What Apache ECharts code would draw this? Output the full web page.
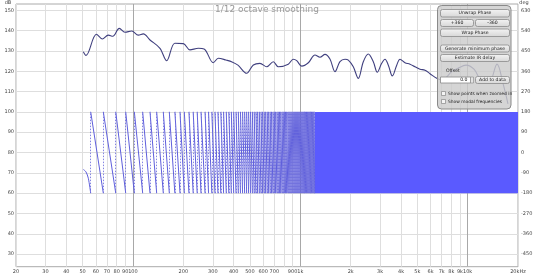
<!DOCTYPE html>
<html><head><meta charset="utf-8">
<script src="https://cdn.jsdelivr.net/npm/echarts@6/dist/echarts.min.js"></script>
<style>html,body{margin:0;padding:0;background:#fff}#c{width:535px;height:275px}</style>
</head><body><div id="c"></div>
<script>
// ---- data ----
const magHz = [50.5, 52.4, 60.5, 65.6, 71.2, 75.7, 82.9, 89.6, 98.3, 107.6, 115.3, 126.4, 145, 159, 178, 200, 219, 246, 266, 302, 324, 360, 391, 424, 478, 524, 574, 630, 690, 739, 848, 908, 952, 1020, 1117, 1224, 1311, 1405, 1504, 1612, 1726, 1850, 1937, 2074, 2222, 2380, 2549, 2731, 2884, 3064, 3208, 3358, 3548, 3769, 3944, 4224, 4524, 4847, 5192, 5561, 5958, 6535, 7028, 8032, 8756, 9780, 10916, 12180, 13424, 14980, 16270, 17420];
const magDb = [129.6, 127.8, 138.2, 135.9, 137.8, 137.2, 141.1, 139.2, 139.8, 137.8, 138.4, 135.4, 131.3, 125.2, 133.8, 133.6, 130.5, 131.3, 131.0, 124.2, 126.4, 125.5, 124.6, 123.0, 119.0, 123.1, 123.9, 122.2, 124.7, 122.2, 123.5, 125.9, 125.2, 122.5, 124.2, 128.0, 126.9, 128.3, 126.0, 119.8, 124.7, 125.9, 125.5, 122.2, 116.5, 124.7, 128.5, 124.7, 119.5, 123.9, 125.9, 123.0, 117.7, 123.0, 125.9, 124.2, 123.5, 122.2, 121.0, 120.5, 118.8, 116.5, 115.7, 119.8, 121.5, 123.0, 121.0, 115.0, 114.5, 123.5, 114.0, 104.0];
const phaseStartHz = [50.5, 52.4, 54.1, 55.9];
const phaseStartDeg = [-75, -86, -114, -180];
const phaseWrapHz = [55.9, 66.5, 78.9, 90.5, 101.9, 114.3, 126.4, 138.6, 151.8, 164.9, 178, 191, 202.7, 216, 229, 242, 255, 269.6,
  283, 296, 309, 322, 335, 348, 361, 374, 387, 400, 413, 426, 439, 452, 465, 478, 491, 504, 517, 530, 543, 556, 569, 582, 595, 608, 621, 634, 647, 660, 673, 686, 699, 712, 725, 738, 751, 764, 777, 790, 803, 816, 829, 842, 855, 868, 881, 894, 907, 920, 933, 946, 959, 972, 985, 998, 1011, 1024, 1037, 1050, 1063, 1076, 1089, 1102, 1115, 1128, 1141, 1154, 1167, 1180, 1193, 1206, 1219];
const phaseBandHz = [1219, 20000];
const phaseBandTop = [180, 180];
const phaseBandBottom = -180;
const xLabelHz = [20, 30, 40, 50, 60, 70, 80, 90, 100, 200, 300, 400, 500, 600, 700, 900, 1000, 2000, 3000, 4000, 5000, 6000, 7000, 8000, 9000, 10000, 20000];
const xGridHz = [20, 30, 40, 50, 60, 70, 80, 90, 100, 200, 300, 400, 500, 600, 700, 800, 900, 1000, 2000, 3000, 4000, 5000, 6000, 7000, 8000, 9000, 10000, 20000];
const xMajorHz = [100, 1000, 10000];
const dbTicks = [30, 40, 50, 60, 70, 80, 90, 100, 110, 120, 130, 140, 150];
const degTicks = [-450, -360, -270, -180, -90, 0, 90, 180, 270, 360, 450, 540, 630];
const dbRange = [23.8, 153.1];
const degRange = [-505.8, 657.9];

const lg = f => Math.log10(f);
const chart = echarts.init(document.getElementById('c'), null, {renderer: 'canvas'});
const F = 'DejaVu Sans';
const fmtHz = v => {
  const f = Math.round(Math.pow(10, v));
  if (f >= 20000) return '20kHz';
  if (f >= 1000) return (f / 1000) + 'k';
  return String(f);
};

const diag = [], vert = [];
for (let i = 0; i < phaseWrapHz.length - 1; i++) {
  diag.push({coords: [[lg(phaseWrapHz[i]), 180], [lg(phaseWrapHz[i + 1]), -180]]});
}
for (const w of phaseWrapHz) vert.push({coords: [[lg(w), -180], [lg(w), 180]]});

const PH = '#5f5fdc';

function button(x, y, w, h, label) {
  return [{
    type: 'rect', shape: {x, y, width: w, height: h, r: 2}, z: 101,
    style: {fill: new echarts.graphic.LinearGradient(0, 0, 0, 1, [{offset: 0, color: '#f4f4f4'}, {offset: 1, color: '#d6d6d6'}]), stroke: '#8a8a8a', lineWidth: 0.8}
  }, {
    type: 'text', x: x + w / 2, y: y + h / 2, z: 102,
    style: {text: label, fontSize: 4.6, fontFamily: F, fill: '#222', align: 'center', verticalAlign: 'middle'}
  }];
}

const panel = [].concat(
  [{type: 'rect', shape: {x: 437.5, y: 5.5, width: 73.5, height: 103.5, r: 4}, z: 100,
    style: {fill: 'rgba(204,204,204,0.82)', stroke: '#8a8a8a', lineWidth: 1}}],
  button(440.5, 9.5, 69, 7.5, 'Unwrap Phase'),
  button(440.5, 19.5, 33, 7, '+360'),
  button(475.5, 19.5, 34, 7, '-360'),
  button(440.5, 29, 69, 7.5, 'Wrap Phase'),
  button(440.5, 45, 69, 7, 'Generate minimum phase'),
  button(440.5, 54.5, 69, 7, 'Estimate IR delay'),
  [{type: 'text', x: 446, y: 71, z: 102, style: {text: 'Offset', fontSize: 4.6, fontFamily: F, fill: '#222', verticalAlign: 'middle'}},
   {type: 'rect', shape: {x: 440.5, y: 77, width: 30, height: 6}, z: 101, style: {fill: '#fff', stroke: '#888', lineWidth: 0.8}},
   {type: 'text', x: 467.5, y: 80, z: 102, style: {text: '0.0', fontSize: 4.6, fontFamily: F, fill: '#222', align: 'right', verticalAlign: 'middle'}},
   {type: 'rect', shape: {x: 470.5, y: 77, width: 3, height: 6}, z: 101, style: {fill: '#e4e4e4', stroke: '#888', lineWidth: 0.6}}],
  button(475.5, 76.5, 34, 7, 'Add to data'),
  [{type: 'rect', shape: {x: 441.5, y: 91.5, width: 4, height: 4}, z: 101, style: {fill: '#f4f4f4', stroke: '#888', lineWidth: 0.7}},
   {type: 'text', x: 448, y: 93.6, z: 102, style: {text: 'Show points when zoomed in', fontSize: 4.4, fontFamily: F, fill: '#222', verticalAlign: 'middle'}},
   {type: 'rect', shape: {x: 441.5, y: 99.5, width: 4, height: 4}, z: 101, style: {fill: '#f4f4f4', stroke: '#888', lineWidth: 0.7}},
   {type: 'text', x: 448, y: 101.6, z: 102, style: {text: 'Show modal frequencies', fontSize: 4.4, fontFamily: F, fill: '#222', verticalAlign: 'middle'}}]
);

chart.setOption({
  animation: false,
  backgroundColor: '#fff',
  grid: {left: 16, right: 17, top: 4, bottom: 8.3, show: true, borderColor: '#aaaaaa', borderWidth: 1, backgroundColor: 'transparent', outerBoundsMode: 'none'},
  graphic: [
    {type: 'text', x: 267, y: 10, z: 50, style: {text: '1/12 octave smoothing', fontSize: 9, fontFamily: F, fill: '#9a9a9a', align: 'center', verticalAlign: 'middle'}},
    {type: 'text', x: 8, y: 3, z: 50, style: {text: 'dB', fontSize: 5, fontFamily: F, fill: '#444', align: 'center', verticalAlign: 'middle'}},
    {type: 'text', x: 524, y: 3, z: 50, style: {text: 'deg', fontSize: 5, fontFamily: F, fill: '#444', align: 'center', verticalAlign: 'middle'}}
  ].concat(panel),
  xAxis: {
    type: 'value', min: lg(20), max: lg(20000),
    axisLine: {show: false},
    axisTick: {show: false, customValues: xGridHz.map(lg)},
    axisLabel: {customValues: xLabelHz.map(lg), formatter: fmtHz, fontSize: 5, fontFamily: F, color: '#444', margin: 3, showMinLabel: true, showMaxLabel: true, hideOverlap: false},
    splitLine: {show: true, lineStyle: {color: '#dedede', width: 1}}
  },
  yAxis: [{
    type: 'value', min: dbRange[0], max: dbRange[1],
    axisLine: {show: false},
    axisTick: {show: false, customValues: dbTicks},
    axisLabel: {customValues: dbTicks, fontSize: 5, fontFamily: F, color: '#444', margin: 2},
    splitLine: {show: true, lineStyle: {color: '#dedede', width: 1}}
  }, {
    type: 'value', min: degRange[0], max: degRange[1], position: 'right',
    axisLine: {show: false},
    axisTick: {show: false, customValues: degTicks},
    axisLabel: {customValues: degTicks, fontSize: 5, fontFamily: F, color: '#444', margin: 3},
    splitLine: {show: false}
  }],
  series: [
    {
      type: 'line', name: 'band', xAxisIndex: 0, yAxisIndex: 1, silent: true, symbol: 'none', z: 3,
      data: phaseBandHz.map((f, i) => [lg(f), phaseBandTop[i]]),
      lineStyle: {width: 0, color: PH},
      areaStyle: {color: '#5a5aff', opacity: 1, origin: phaseBandBottom}
    },
    {
      type: 'lines', coordinateSystem: 'cartesian2d', xAxisIndex: 0, yAxisIndex: 1, silent: true, z: 3,
      polyline: false, data: diag,
      lineStyle: {color: PH, width: 1, opacity: 1, curveness: 0}
    },
    {
      type: 'lines', coordinateSystem: 'cartesian2d', xAxisIndex: 0, yAxisIndex: 1, silent: true, z: 3,
      polyline: false, data: vert,
      lineStyle: {color: '#7070dd', width: 1, opacity: 0.85, type: [1.5, 1.5], curveness: 0}
    },
    {
      type: 'line', xAxisIndex: 0, yAxisIndex: 1, silent: true, symbol: 'none', z: 3, smooth: 0.3,
      data: phaseStartHz.map((f, i) => [lg(f), phaseStartDeg[i]]),
      lineStyle: {color: PH, width: 1}
    },
    {
      type: 'line', name: 'mag', xAxisIndex: 0, yAxisIndex: 0, silent: true, symbol: 'none', z: 4, smooth: 0.35,
      data: magHz.map((f, i) => [lg(f), magDb[i]]),
      lineStyle: {color: '#40407f', width: 1.1},
      markLine: {
        silent: true, symbol: 'none', label: {show: false}, z: 1,
        lineStyle: {color: '#a8a8a8', width: 1, type: 'solid'},
        data: xMajorHz.map(f => ({xAxis: lg(f)}))
      }
    }
  ]
});
</script>
</body></html>
